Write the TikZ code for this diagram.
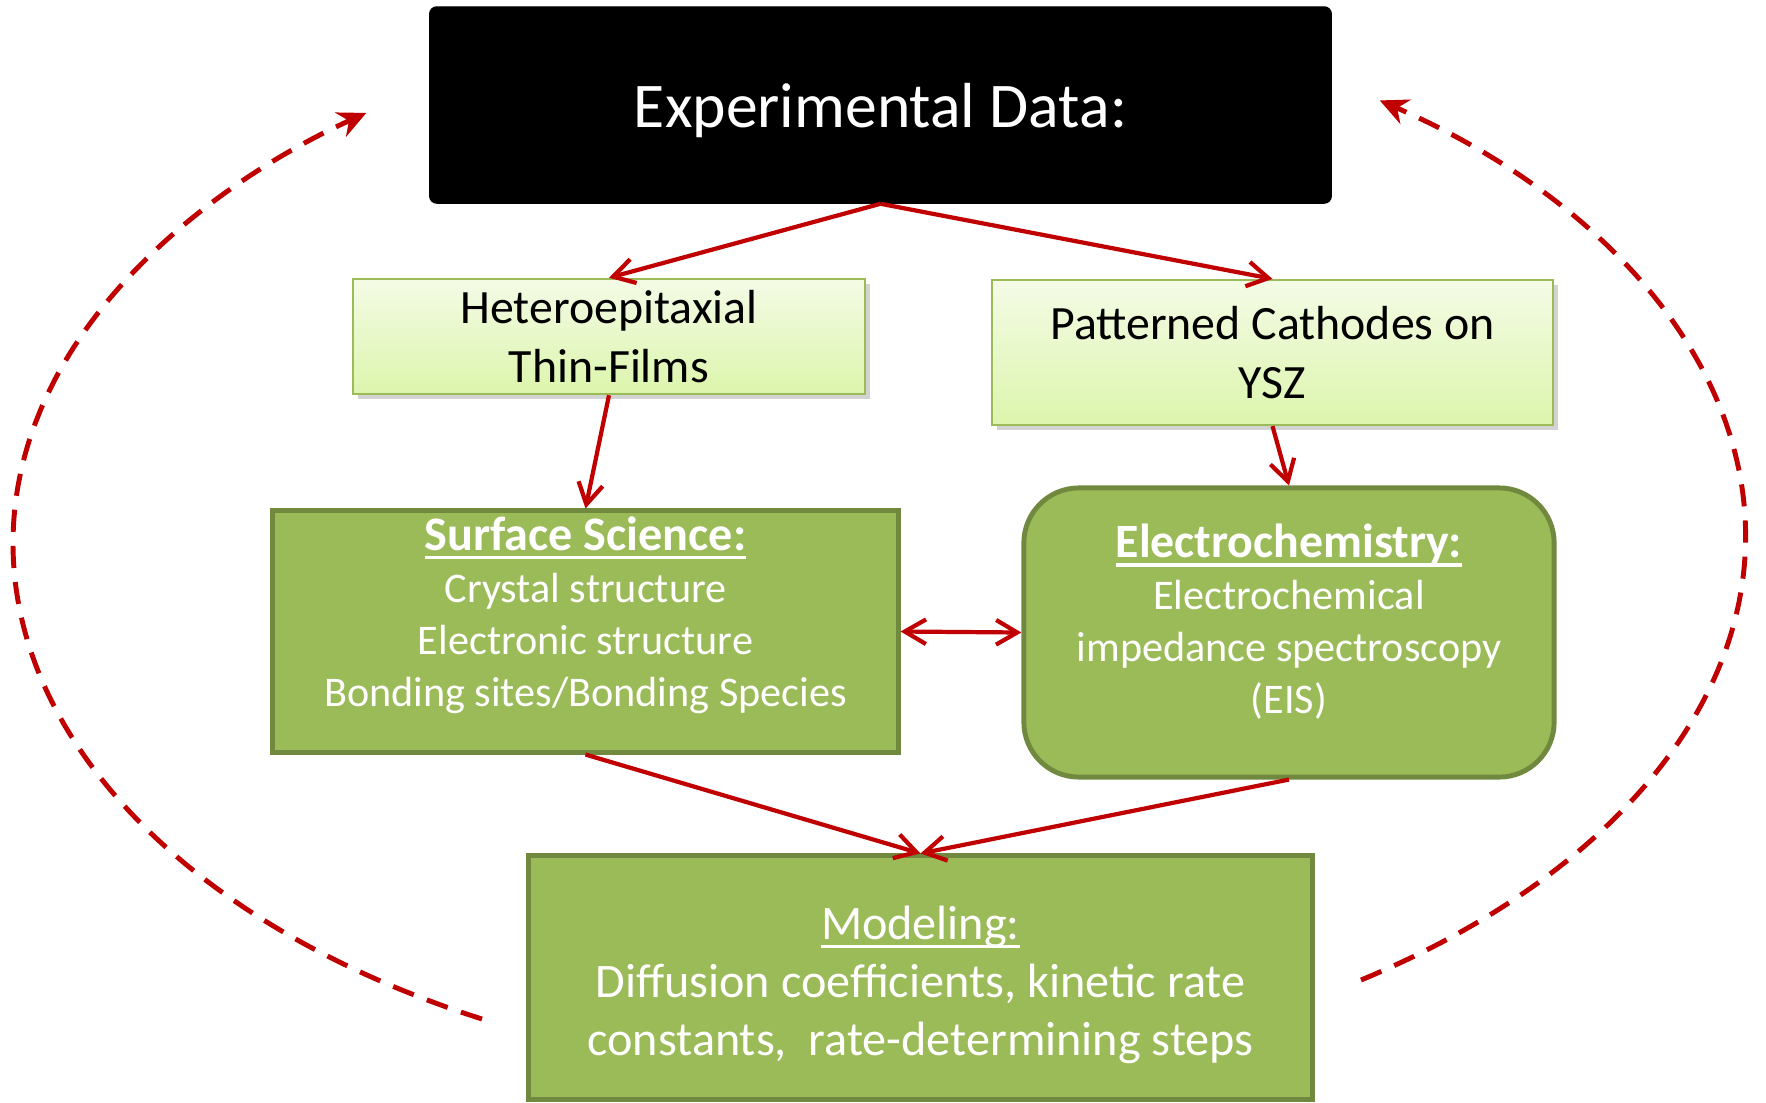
\documentclass[tikz,border=0pt]{standalone}
\usepackage{fontspec}
\setmainfont{Carlito}
\usetikzlibrary{arrows.meta,shadows}
\definecolor{arrowred}{HTML}{C00000}
\definecolor{leafgreen}{HTML}{9BBB59}
\definecolor{leafdark}{HTML}{71893F}
\definecolor{paletop}{HTML}{F4FBE6}
\definecolor{palebottom}{HTML}{DCF5AC}
\newcommand\headline[1]{\setbox0\hbox{#1}\rlap{\rule[-2.5pt]{\wd0}{0.95pt}}\box0}
\begin{document}
\begin{tikzpicture}[x=0.01cm,y=-0.01cm,
  databox/.style={fill=black,draw=black,rounded corners=2pt,text=white,text depth=0pt,font=\fontsize{18.1}{22}\selectfont},
  samplebox/.style={draw=leafgreen,line width=0.6pt,top color=paletop,bottom color=palebottom,
    drop shadow={shadow xshift=1.5pt,shadow yshift=-1.5pt,opacity=0.35},align=center,font=\fontsize{13.6}{16.6}\selectfont},
  methodbox/.style={fill=leafgreen,draw=leafdark,line width=1.4pt},
  methodtext/.style={text=white,align=center},
  flow/.style={draw=arrowred,line width=1.2pt,-{Straight Barb[length=6pt,width=7pt]}},
  loop/.style={draw=arrowred,line width=1.4pt,dash pattern=on 6.3pt off 4pt,-{Stealth[length=8pt,width=7.5pt]}}]
\useasboundingbox (0,0) rectangle (1766,1102);
\node[databox,minimum width=9.01cm,minimum height=1.96cm] (expdata) at (880.5,105) {Experimental Data:};
\node[samplebox,minimum width=5.12cm,minimum height=1.13cm] (films) at (609,336.5) {Heteroepitaxial\\Thin-Films};
\node[samplebox,minimum width=5.61cm,minimum height=1.45cm] (cathodes) at (1272.5,352.5) {Patterned Cathodes on\\YSZ};
\node[methodbox,minimum width=6.25cm,minimum height=2.41cm] (surface) at (585.5,631.5) {};
\node[methodbox,rounded corners=0.55cm,minimum width=5.3cm,minimum height=2.89cm] (echem) at (1289,632.5) {};
\node[methodbox,minimum width=7.83cm,minimum height=2.43cm] (model) at (920.5,977.5) {};
\node[methodtext,font=\fontsize{12}{14.8}\selectfont] (surfacetxt) at (585.5,615)
  {{\fontsize{13.7}{15.6}\selectfont\bfseries\headline{Surface Science:}}\\Crystal structure\\Electronic structure\\Bonding sites/Bonding Species};
\node[methodtext,font=\fontsize{12}{14.8}\selectfont] (echemtxt) at (1289,622)
  {{\fontsize{13.6}{15.6}\selectfont\bfseries\headline{Electrochemistry:}}\\Electrochemical\\impedance spectroscopy\\(EIS)};
\node[methodtext,font=\fontsize{13.7}{16.6}\selectfont] (modeltxt) at (920.5,985)
  {\headline{Modeling:}\\Diffusion coefficients, kinetic rate\\constants,\ \ rate-determining steps};
\draw[flow] (expdata.south) -- (films.north);
\draw[flow] (expdata.south) -- (cathodes.north);
\draw[flow] (films.south) -- (surface.north);
\draw[flow] (cathodes.south) -- (echem.north);
\draw[flow,{Straight Barb[length=6pt,width=7pt]}-{Straight Barb[length=6pt,width=7pt]}] (surface.east) -- (echem.west);
\draw[flow] (surface.south) -- (model.north);
\draw[flow] (echem.south) -- (model.north);
\coordinate (leftfoot) at (482,1019);
\coordinate (rightfoot) at (1361,980);
\draw[loop] (leftfoot) arc[start angle=242.6,end angle=126.4,x radius=8.68cm,y radius=5.35cm];
\draw[loop] (rightfoot) arc[start angle=-56,end angle=54.5,x radius=8.72cm,y radius=5.35cm];
\end{tikzpicture}
\end{document}
